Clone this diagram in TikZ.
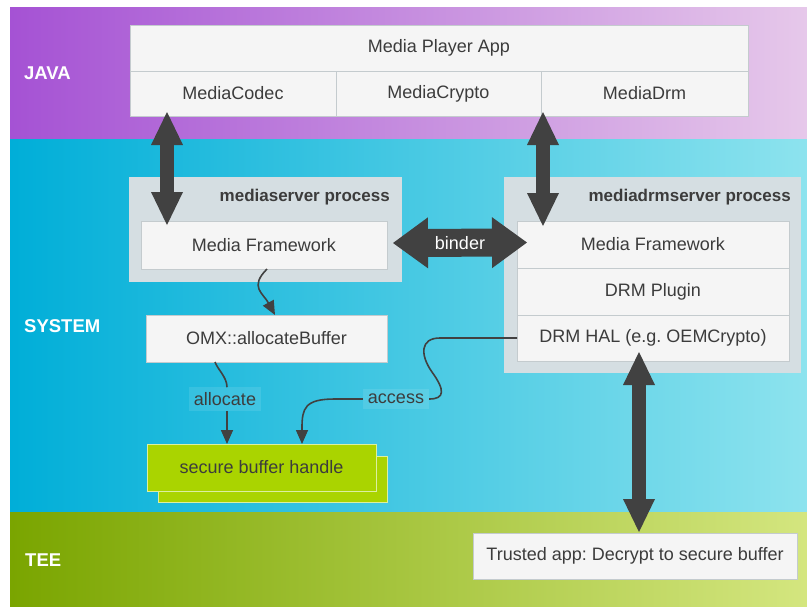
\documentclass[tikz,border=0pt]{standalone}
\usepackage{fontspec}
\setmainfont{Liberation Sans}
\usetikzlibrary{arrows.meta}
\frenchspacing

\definecolor{javaL}{HTML}{A552D4}
\definecolor{javaR}{HTML}{E6C8EA}
\definecolor{sysL}{HTML}{00AED8}
\definecolor{sysR}{HTML}{8DE3EE}
\definecolor{teeL}{HTML}{7AA500}
\definecolor{teeR}{HTML}{D4E67F}
\definecolor{boxfill}{HTML}{F5F5F5}
\definecolor{boxline}{HTML}{C4CBCE}
\definecolor{procfill}{HTML}{D5DEE2}
\definecolor{textgray}{HTML}{3C3C3C}
\definecolor{arrowgray}{HTML}{414141}
\definecolor{bufgreen}{HTML}{AAD400}
\definecolor{bufline}{HTML}{DCEFA0}

\begin{document}
\begin{tikzpicture}[x=1pt, y=-1pt, font=\fontsize{18}{21}\selectfont,
    box/.style={draw=boxline, fill=boxfill, line width=0.8pt, inner sep=0pt, outer sep=0pt, anchor=north west, text=textgray},
    proc/.style={fill=procfill, inner sep=0pt, outer sep=0pt, anchor=north west},
    proctitle/.style={font=\fontsize{17}{20}\selectfont\bfseries, text=textgray, anchor=east, inner sep=0pt},
    bandlabel/.style={font=\fontsize{18.5}{21}\selectfont\bfseries, text=white, anchor=west, inner sep=0pt},
    buffer/.style={draw=bufline, fill=bufgreen, line width=1pt, inner sep=0pt, outer sep=0pt, anchor=north west, text=textgray},
    lbl/.style={fill=white, fill opacity=0.1, text opacity=1, text=textgray, inner sep=5pt},
    connline/.style={draw=arrowgray, line width=1.6pt},
    conn/.style={connline, -{Triangle[width=12pt,length=14pt]}},
    bigarrow/.style={draw=arrowgray, line width=14pt,
      {Triangle[width=32pt,length=33pt,line width=0pt]}-{Triangle[width=32pt,length=33pt,line width=0pt]}},
    binder/.style={draw=arrowgray, line width=28pt,
      {Triangle[width=51pt,length=35pt,line width=0pt]}-{Triangle[width=51pt,length=35pt,line width=0pt]}}]
  \useasboundingbox (0,0) rectangle (807,606);

  % Layer bands
  \shade[left color=javaL, right color=javaR] (10,7) rectangle (807,139);
  \shade[left color=sysL, right color=sysR] (10,139) rectangle (807,512);
  \shade[left color=teeL, right color=teeR] (10,512) rectangle (807,606);

  \node[bandlabel] (java) at (24,73) {JAVA};
  \node[bandlabel] (system) at (24,326) {SYSTEM};
  \node[bandlabel] (tee) at (25,560) {TEE};

  % Media player app and its classes
  \node[box, minimum width=618pt, minimum height=46pt] (app) at (130,25) {Media Player App};
  \node[box, minimum width=206pt, minimum height=45pt] (codec) at (app.south west) {MediaCodec};
  \node[box, minimum width=205pt, minimum height=45pt] (crypto) at (codec.north east) {MediaCrypto};
  \node[box, minimum width=207pt, minimum height=45pt] (drm) at (crypto.north east) {MediaDrm};

  % mediaserver process
  \node[proc, minimum width=273pt, minimum height=105pt] (msproc) at (129,177) {};
  \node[proctitle] (mstitle) at (390,197) {mediaserver process};
  \node[box, minimum width=246pt, minimum height=48pt] (msfw) at (141,221) {Media Framework};
  \node[box, minimum width=241pt, minimum height=47pt] (omx) at (146,315) {OMX::allocateBuffer};

  % mediadrmserver process
  \node[proc, minimum width=297pt, minimum height=196pt] (mdproc) at (504,177) {};
  \node[proctitle] (mdtitle) at (791,197) {mediadrmserver process};
  \node[box, minimum width=272pt, minimum height=47pt] (mdfw) at (517,221) {Media Framework};
  \node[box, minimum width=272pt, minimum height=47pt] (plugin) at (mdfw.south west) {DRM Plugin};
  \node[box, minimum width=272pt, minimum height=46pt] (hal) at (plugin.south west) {DRM HAL (e.g. OEMCrypto)};

  % Secure buffer (stacked)
  \node[buffer, minimum width=229pt, minimum height=46pt] (bufback) at (158,456) {};
  \node[buffer, minimum width=229pt, minimum height=47pt] (buf) at (147,444) {secure buffer handle};

  % Trusted app in the TEE
  \node[box, minimum width=324pt, minimum height=46pt] (trusted) at (473,533) {Trusted app: Decrypt to secure buffer};

  % Connector labels
  \node[lbl] (alloc) at (225,399) {allocate};
  \node[lbl] (access) at (396,399) {access};

  % Thin connectors
  \draw[conn] ([xshift=3pt]msfw.south) .. controls +(-18,18) and +(-12,-22) .. ([xshift=8.5pt]omx.north);
  \draw[connline] ([xshift=-51.5pt]omx.south) .. controls +(3,8) and +(0,-10) .. ([xshift=2pt]alloc.north);
  \draw[conn] ([xshift=2pt]alloc.south) -- ([xshift=-34.5pt]buf.north);
  \draw[connline] (hal.west) -- (440,338) .. controls (420,338) and (420,355) .. (432,372)
    .. controls (445,390) and (445,399) .. (access.east);
  \draw[conn] (access.west) -- (335,399) .. controls (305,399) and (302,408) .. (302,428)
    -- ([xshift=40.5pt]buf.north);

  % Thick arrows between layers
  \draw[bigarrow] ([shift={(37,-4)}]codec.south west) -- ([shift={(26,4)}]msfw.north west);
  \draw[bigarrow] ([shift={(2,-4)}]drm.south west) -- ([shift={(26,5)}]mdfw.north west);
  \draw[bigarrow] ([shift={(-14,-9)}]hal.south) -- ([shift={(4,-1)}]trusted.north);

  % Binder between the two processes
  \draw[binder] ([shift={(6,-2)}]msfw.east) -- node[text=white] (bindertext) {binder} ([shift={(10,-2)}]mdfw.west);
\end{tikzpicture}
\end{document}
